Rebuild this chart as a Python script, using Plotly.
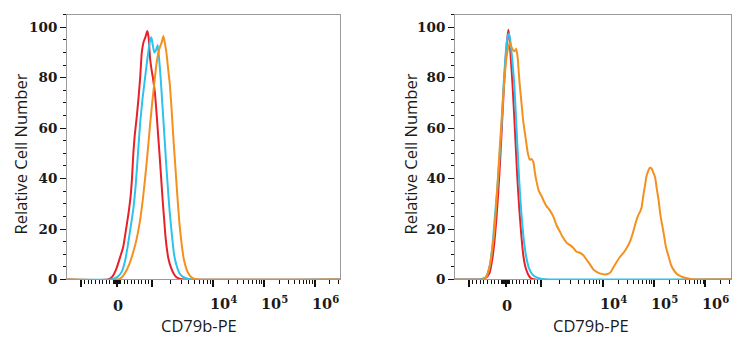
import numpy as np
import plotly.graph_objects as go

# ---------------------------------------------------------------------------
# Histogram data, x in display channels (0-1000 on a biexponential scale),
# y in % of the modal bin.
# ---------------------------------------------------------------------------

# Panel A (CD79b-negative cells)
a_blank_x = [0, 150, 165, 180, 195, 206, 215, 225, 233, 238, 243, 248, 255, 262, 268, 274, 280,
             287, 294, 299, 304, 310, 316, 322, 328, 334, 340, 345, 350, 355, 360, 366, 372, 380,
             390, 400, 415, 430, 1000]
a_blank_y = [0, 0, 1, 4, 9, 13, 19, 26, 33, 40, 50, 57, 64, 72, 80, 90, 94,
             96, 98.5, 96, 88, 83, 79, 74, 66, 57, 48, 40, 32, 25, 18, 12, 8, 5,
             2.5, 1, 0.2, 0, 0]

a_iso_x = [0, 160, 185, 200, 212, 222, 232, 243, 252, 260, 268, 277, 286, 295, 303, 309, 314,
           320, 326, 332, 337, 343, 349, 355, 362, 369, 376, 384, 392, 400, 412, 425, 445, 460, 1000]
a_iso_y = [0, 0, 1, 3, 7, 13, 20, 28, 38, 50, 62, 72, 80, 88, 94, 96, 93,
           90, 91, 93, 88, 80, 70, 60, 48, 37, 27, 18, 10, 6, 2.5, 1, 0.2, 0, 0]

a_cd79b_x = [0, 185, 200, 212, 228, 243, 255, 267, 278, 286, 295, 304, 312, 319, 326, 333, 340,
             347, 353, 358, 364, 370, 377, 384, 391, 398, 405, 412, 420, 428, 438, 450, 462, 478, 1000]
a_cd79b_y = [0, 0, 0.8, 2.5, 6, 11, 16, 23, 32, 40, 50, 61, 70, 77, 84, 89, 92,
             94, 96.5, 94, 90, 84, 77, 66, 54, 43, 32, 22, 14, 8, 4, 1.5, 0.4, 0, 0]

# Panel B (CD79b-positive cells)
b_blank_x = [0, 90, 110, 125, 135, 142, 150, 157, 164, 170, 176, 182, 188, 193, 197, 202, 208,
             214, 220, 226, 233, 240, 247, 255, 265, 275, 290, 1000]
b_blank_y = [0, 0, 0.5, 2.5, 8, 14, 24, 35, 48, 61, 74, 85, 94, 99, 96, 88, 78,
             66, 53, 40, 28, 18, 10, 5, 2, 0.5, 0, 0]

b_iso_x = [0, 90, 103, 115, 127, 135, 145, 155, 163, 170, 176, 184, 190, 195, 200, 205, 210,
           215, 221, 227, 233, 241, 250, 258, 268, 280, 296, 315, 340, 1000]
b_iso_y = [0, 0, 0.3, 1.5, 6, 12.7, 25.5, 38.4, 51, 64, 77, 90, 96, 97.5, 95, 90, 84,
           77, 64, 51, 38.4, 25.5, 15, 9, 4.5, 2, 0.8, 0.2, 0, 0]

b_cd79b_x = [0, 100, 112, 125, 135, 144, 153, 162, 170, 178, 186, 193, 200, 205, 210, 216, 222,
             227, 234, 240, 247, 256, 264, 271, 277, 284, 290, 296, 304, 314, 322, 332, 343, 356,
             368, 380, 392, 405, 418, 429, 440, 452, 465, 477, 489, 501, 513, 527, 543, 555, 563,
             575, 586, 598, 610, 622, 634, 646, 656, 664, 671, 676, 682, 688, 694, 700, 706, 712,
             718, 725, 731, 737, 745, 755, 764, 773, 782, 791, 803, 815, 830, 845, 860, 880, 1000]
b_cd79b_y = [0, 0, 0.8, 5, 12, 21, 36, 52, 65, 78, 87.5, 92, 94, 92, 91, 90.5, 91.5,
             88, 78, 71, 63, 56, 50, 47.5, 47.8, 46.5, 42, 38.5, 35, 33, 31, 29, 27.5, 25,
             21.5, 19, 16.5, 14.5, 13.5, 12.5, 11, 10.6, 9.6, 7.8, 6, 4, 3, 2.3, 2, 2.2, 2.8,
             5, 7, 9, 10.5, 12.5, 15, 19, 23, 25.5, 27, 28.5, 33, 37, 41, 43, 44.3, 44,
             42.5, 40.5, 36, 32, 25, 19, 13, 9.5, 6, 4, 2.3, 1.4, 0.8, 0.4, 0.1, 0, 0]

# Biexponential axis: fluorescence values of the major ticks and their channels
major_tick_values = [-1e3, 0, 1e3, 1e4, 1e5, 1e6]
major_tick_channels = [52, 183, 313, 535, 722, 907]
decade_label_values = [0, 1e4, 1e5, 1e6]
decade_label_texts = ["0", "10<sup>4</sup>", "10<sup>5</sup>", "10<sup>6</sup>"]

y_label_values = [0, 20, 40, 60, 80, 100]

SERIES_COLORS = {"Blank": "#e8202a", "Isotype": "#2cc3ec", "CD79b": "#f4901e"}


def to_channel(value):
    """Map a fluorescence value onto the display channel of the biexponential axis."""
    lin_v = major_tick_values[:3]
    lin_c = major_tick_channels[:3]
    if abs(value) <= 1e3:
        return float(np.interp(value, lin_v, lin_c))
    logs = np.log10(major_tick_values[2:])
    chans = np.array(major_tick_channels[2:], dtype=float)
    lv = np.log10(value)
    if lv <= logs[-1]:
        return float(np.interp(lv, logs, chans))
    return float(chans[-1] + (lv - logs[-1]) * (chans[-1] - chans[-2]))


minor_values = []
for step in (10, 100):
    for k in range(1, 10):
        minor_values += [k * step, -k * step]
for dec in (1e3, 1e4, 1e5, 1e6):
    minor_values += [k * dec for k in range(2, 10)]
minor_channels = [c for c in (to_channel(v) for v in minor_values) if 0 <= c <= 1000]
major_channels = [to_channel(v) for v in major_tick_values]

y_minor = [v for v in range(0, 106, 5) if v % 20]

fig = go.Figure()

panels = [
    ("x", "y", [("Blank", a_blank_x, a_blank_y), ("Isotype", a_iso_x, a_iso_y),
                ("CD79b", a_cd79b_x, a_cd79b_y)]),
    ("x2", "y2", [("Blank", b_blank_x, b_blank_y), ("Isotype", b_iso_x, b_iso_y),
                  ("CD79b", b_cd79b_x, b_cd79b_y)]),
]
for xa, ya, series in panels:
    for name, xs, ys in series:
        fig.add_trace(go.Scatter(
            x=xs, y=ys, mode="lines", name=name, xaxis=xa, yaxis=ya, showlegend=False,
            line=dict(color=SERIES_COLORS[name], width=2, shape="spline", smoothing=0.5),
            hoverinfo="skip",
        ))

W, H = 746, 350
FRAME = "#9a9a9a"
TICK_FONT = dict(family="DejaVu Serif, Liberation Serif, serif", size=13.5,
                 color="#1a1a1a", weight="bold")
DECADE_FONT = dict(TICK_FONT, size=14.5)
TITLE_FONT = dict(family="Open Sans", size=16.5, color="#1a1a1a")

x_common = dict(
    range=[0, 1000], showgrid=False, zeroline=False, showline=True, mirror=True,
    linecolor=FRAME, linewidth=1, ticks="outside", tickmode="array",
    tickvals=major_channels, ticklen=7, tickwidth=1.8, tickcolor="#111",
    showticklabels=False, fixedrange=True,
    minor=dict(tickmode="array", tickvals=minor_channels, ticks="outside",
               ticklen=4, tickwidth=1, tickcolor="#111"),
)
y_common = dict(
    range=[0, 105], showgrid=False, zeroline=False, showline=True, mirror=True,
    linecolor=FRAME, linewidth=1, ticks="outside", tickmode="array",
    tickvals=y_label_values, ticktext=[str(v) for v in y_label_values],
    ticklen=6, tickwidth=1.4, tickcolor="#111", tickfont=TICK_FONT, fixedrange=True,
    minor=dict(tickmode="array", tickvals=y_minor, ticks="outside",
               ticklen=3.5, tickwidth=1, tickcolor="#111"),
)

ybot, ytop = 1 - 286 / H, 1 - 15 / H
fig.update_layout(
    width=W, height=H, margin=dict(l=0, r=0, t=0, b=0),
    paper_bgcolor="white", plot_bgcolor="white",
    xaxis=dict(domain=[67 / W, 340 / W], anchor="y", **x_common),
    yaxis=dict(domain=[ybot, ytop], anchor="x", **y_common),
    xaxis2=dict(domain=[455 / W, 731 / W], anchor="y2", **x_common),
    yaxis2=dict(domain=[ybot, ytop], anchor="x2", **y_common),
)

annotations = []
for xa, cx, ty_x in (("x", 199, 20), ("x2", 591, 410)):
    # decade labels under the x axis
    for v, txt in zip(decade_label_values, decade_label_texts):
        c = to_channel(v)
        if v == 0:
            annotations.append(dict(x=c, xref=xa, y=1 - 313 / H, yref="paper", text=txt,
                                    showarrow=False, xanchor="center", yanchor="middle",
                                    xshift=1, font=DECADE_FONT))
        else:
            annotations.append(dict(x=c, xref=xa, y=1 - 310 / H, yref="paper", text=txt,
                                    showarrow=False, xanchor="left", yanchor="middle",
                                    xshift=-5, font=DECADE_FONT))
    annotations.append(dict(x=cx / W, xref="paper", y=1 - 333 / H, yref="paper",
                            text="CD79b-PE", showarrow=False, xanchor="center",
                            yanchor="middle", font=TITLE_FONT))
    annotations.append(dict(x=ty_x / W, xref="paper", y=1 - 158 / H, yref="paper",
                            text="Relative Cell Number", showarrow=False, textangle=-90,
                            xanchor="center", yanchor="middle", font=TITLE_FONT))
fig.update_layout(annotations=annotations)

fig.write_html("out.html")
